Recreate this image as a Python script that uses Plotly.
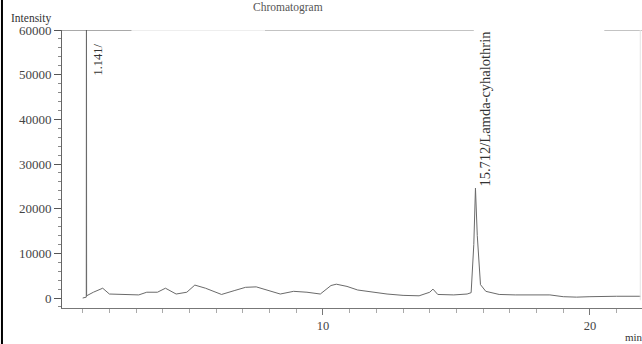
import plotly.graph_objects as go

# Retention time (min) and detector intensity of the chromatogram trace
time_min = [1.00, 1.135, 1.141, 1.147, 1.40, 1.75, 2.00, 2.60, 3.10, 3.40, 3.80, 4.10, 4.50,
            4.90, 5.20, 5.60, 6.20, 6.70, 7.10, 7.50, 7.90, 8.40, 8.90, 9.40, 9.90,
            10.30, 10.50, 10.90, 11.30, 11.90, 12.40, 13.00, 13.60, 14.00, 14.12,
            14.30, 14.90, 15.40, 15.55, 15.65, 15.712, 15.78, 15.90, 16.10, 16.60,
            17.20, 18.50, 19.00, 19.50, 20.00, 20.50, 21.00, 21.90]
intensity = [0, 200, 95000, 500, 1300, 2200, 900, 700, 700, 1300, 1300, 2200, 900,
             1300, 2900, 2200, 800, 1700, 2400, 2500, 1800, 900, 1500, 1300, 900,
             2800, 3100, 2600, 1800, 1300, 900, 600, 500, 1300, 2000,
             800, 700, 900, 1200, 12000, 24600, 14000, 3000, 1500, 800,
             700, 700, 300, 200, 300, 400, 400, 400]

# Labelled peaks: retention time, label anchor height, label text
peak_times = [1.141, 15.712]
peak_label_y = [57500, 24600]
peak_labels = ["1.141/", "15.712/Lamda-cyhalothrin"]

x_range = [0.225, 21.95]
y_range = [-2230, 60000]
y_ticks = [0, 10000, 20000, 30000, 40000, 50000, 60000]

SERIF = "Liberation Serif"

fig = go.Figure()
fig.add_trace(go.Scatter(
    x=time_min, y=intensity, mode="lines",
    line=dict(color="#6a6a6a", width=1),
    hoverinfo="skip", showlegend=False,
))

annotations = []
for t, yv, txt in zip(peak_times, peak_label_y, peak_labels):
    big = t > 5
    annotations.append(dict(
        x=t, y=yv, xref="x", yref="y", text=txt, textangle=-90,
        showarrow=False, xanchor="left", yanchor="bottom" if big else "top",
        xshift=0 if big else 3,
        font=dict(family=SERIF, size=14.5 if big else 12.5, color="#333333"),
    ))

annotations += [
    dict(text="Chromatogram", xref="paper", yref="paper", x=0.39, y=1.08,
         showarrow=False, xanchor="center", yanchor="middle",
         font=dict(family=SERIF, size=11.5, color="#555")),
    dict(text="Intensity", xref="paper", yref="paper", x=-0.092, y=1.04,
         showarrow=False, xanchor="left", yanchor="middle",
         font=dict(family=SERIF, size=11.5, color="#333")),
    dict(text="min", xref="paper", yref="paper", x=0.968, y=-0.105,
         showarrow=False, xanchor="left", yanchor="middle",
         font=dict(family=SERIF, size=11, color="#333")),
]

shapes = [
    # outer frame on the left edge of the page
    dict(type="line", xref="paper", yref="paper", x0=-0.1035, x1=-0.1035,
         y0=-0.14, y1=1.12, line=dict(color="black", width=2)),
    # top border of the plotting frame
    dict(type="line", xref="paper", yref="y", x0=0, x1=0.12,
         y0=60000, y1=60000, line=dict(color="#555", width=1)),
    dict(type="line", xref="paper", yref="y", x0=0.12, x1=0.35,
         y0=60000, y1=60000, line=dict(color="#dddddd", width=1)),
    dict(type="line", xref="paper", yref="y", x0=0.35, x1=0.71,
         y0=60000, y1=60000, line=dict(color="#888", width=1)),
    dict(type="line", xref="paper", yref="y", x0=0.935, x1=1.0,
         y0=60000, y1=60000, line=dict(color="#888", width=1)),
    # right border
    dict(type="line", xref="paper", yref="y", x0=0.997, x1=0.997,
         y0=-500, y1=60000, line=dict(color="#e4e4e4", width=1)),
]

fig.update_layout(
    width=642, height=344,
    margin=dict(l=62, r=0, t=30, b=36),
    paper_bgcolor="white", plot_bgcolor="white",
    font=dict(family=SERIF, size=12, color="#333333"),
    xaxis=dict(
        range=x_range, tickmode="array", tickvals=[10, 20], ticktext=["10", "20"],
        ticks="outside", ticklen=6, tickcolor="#777", showline=True,
        linecolor="#777", linewidth=1, showgrid=False, zeroline=False,
        minor=dict(dtick=1, tick0=0, ticks="outside", ticklen=4, tickcolor="#aaa"),
        tickfont=dict(family=SERIF, size=12.5, color="#444"),
    ),
    yaxis=dict(
        range=y_range, tickmode="array", tickvals=y_ticks,
        ticktext=[str(v) for v in y_ticks],
        ticks="outside", ticklen=7, tickcolor="#555", showline=True,
        linecolor="#666", linewidth=1, showgrid=False, zeroline=False,
        minor=dict(dtick=2000, tick0=0, ticks="outside", ticklen=3, tickcolor="#888"),
        tickfont=dict(family=SERIF, size=13, color="#444"),
    ),
    shapes=shapes,
    annotations=annotations,
)

fig.write_html("out.html")
